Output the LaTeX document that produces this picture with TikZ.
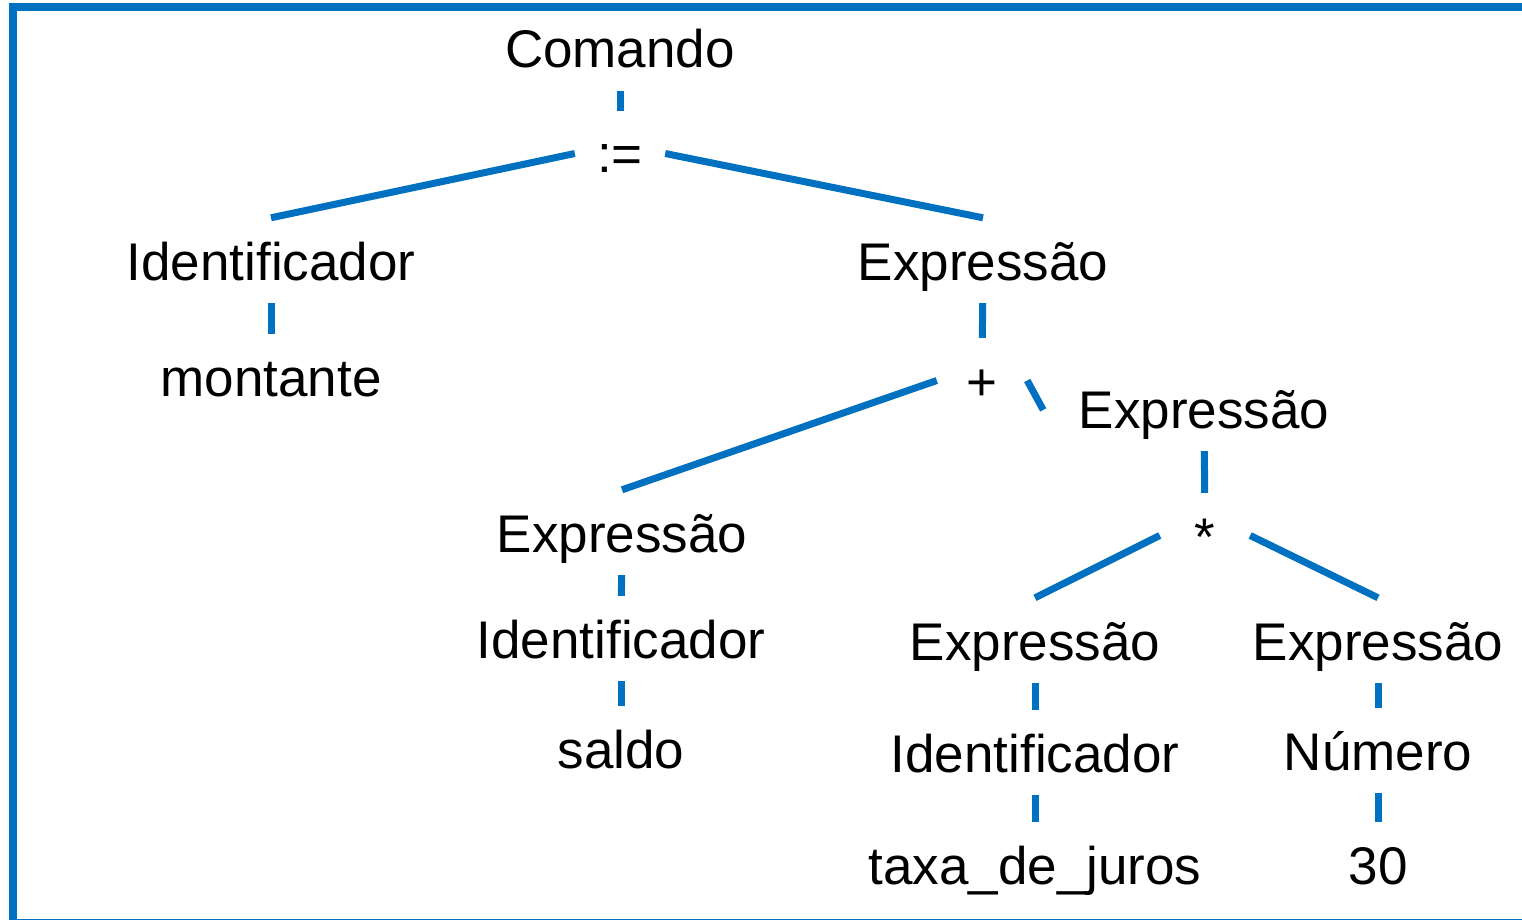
\documentclass[tikz,border=0pt]{standalone}
\usepackage{fontspec}
\setmainfont{Liberation Sans}
\usetikzlibrary{positioning}
\definecolor{treeblue}{RGB}{0,112,192}
\tikzset{
sym/.style={anchor=base,text height=50pt,text depth=11pt,inner xsep=22pt,inner ysep=12pt},
op/.style={sym,minimum width=90pt},
branch/.style={draw=treeblue,line width=7pt},
frame/.style={draw=treeblue,line width=8pt},
}
\tikzstyle{every node}=[font=\fontsize{53}{60}\selectfont]

\begin{document}
\begin{tikzpicture}[x=1pt,y=-1pt]
        \useasboundingbox (0,0) rectangle (1522,920);
        \draw[frame] (13,7) rectangle (1530,923);

        % root
        \node[sym] (cmd) at (620,68) {Comando};
        \node[op] (assign) at (620,173) {:=};
        \draw[branch] (cmd) -- (assign);

        % left side of the assignment
        \node[sym] (id1) at (271,280) {Identificador};
        \node[sym] (montante) at (271,396) {montante};
        \draw[branch] (assign.west) -- (id1.north);
        \draw[branch] (id1) -- (montante);

        % right side of the assignment
        \node[sym] (e1) at (983,280) {Expressão};
        \node[op] (plus) at (982,400) {+};
        \draw[branch] (assign.east) -- (e1.north);
        \draw[branch] (e1) -- (plus);

        % first operand of +
        \node[sym] (e2) at (622,552) {Expressão};
        \node[sym] (id2) at (621,658) {Identificador};
        \node[sym] (saldo) at (621,768) {saldo};
        \draw[branch] (plus.west) -- (e2.north);
        \draw[branch] (e2) -- (id2);
        \draw[branch] (id2) -- (saldo);

        % second operand of +
        \node[sym] (e3) at (1204,428) {Expressão};
        \node[op] (times) at (1205,555) {*};
        \draw[branch, shorten >=28pt] (plus.east) -- (e3.190);
        \draw[branch] (e3) -- (times);

        % operands of *
        \node[sym] (e4) at (1035,660) {Expressão};
        \node[sym] (id3) at (1035,772) {Identificador};
        \node[sym] (taxa) at (1035,884) {taxa\_de\_juros};
        \draw[branch] (times.west) -- (e4.north);
        \draw[branch] (e4) -- (id3);
        \draw[branch] (id3) -- (taxa);

        \node[sym] (e5) at (1378,660) {Expressão};
        \node[sym] (num) at (1378,770) {Número};
        \node[sym] (n30) at (1378,884) {30};
        \draw[branch] (times.east) -- (e5.north);
        \draw[branch] (e5) -- (num);
        \draw[branch] (num) -- (n30);
\end{tikzpicture}
\end{document}
